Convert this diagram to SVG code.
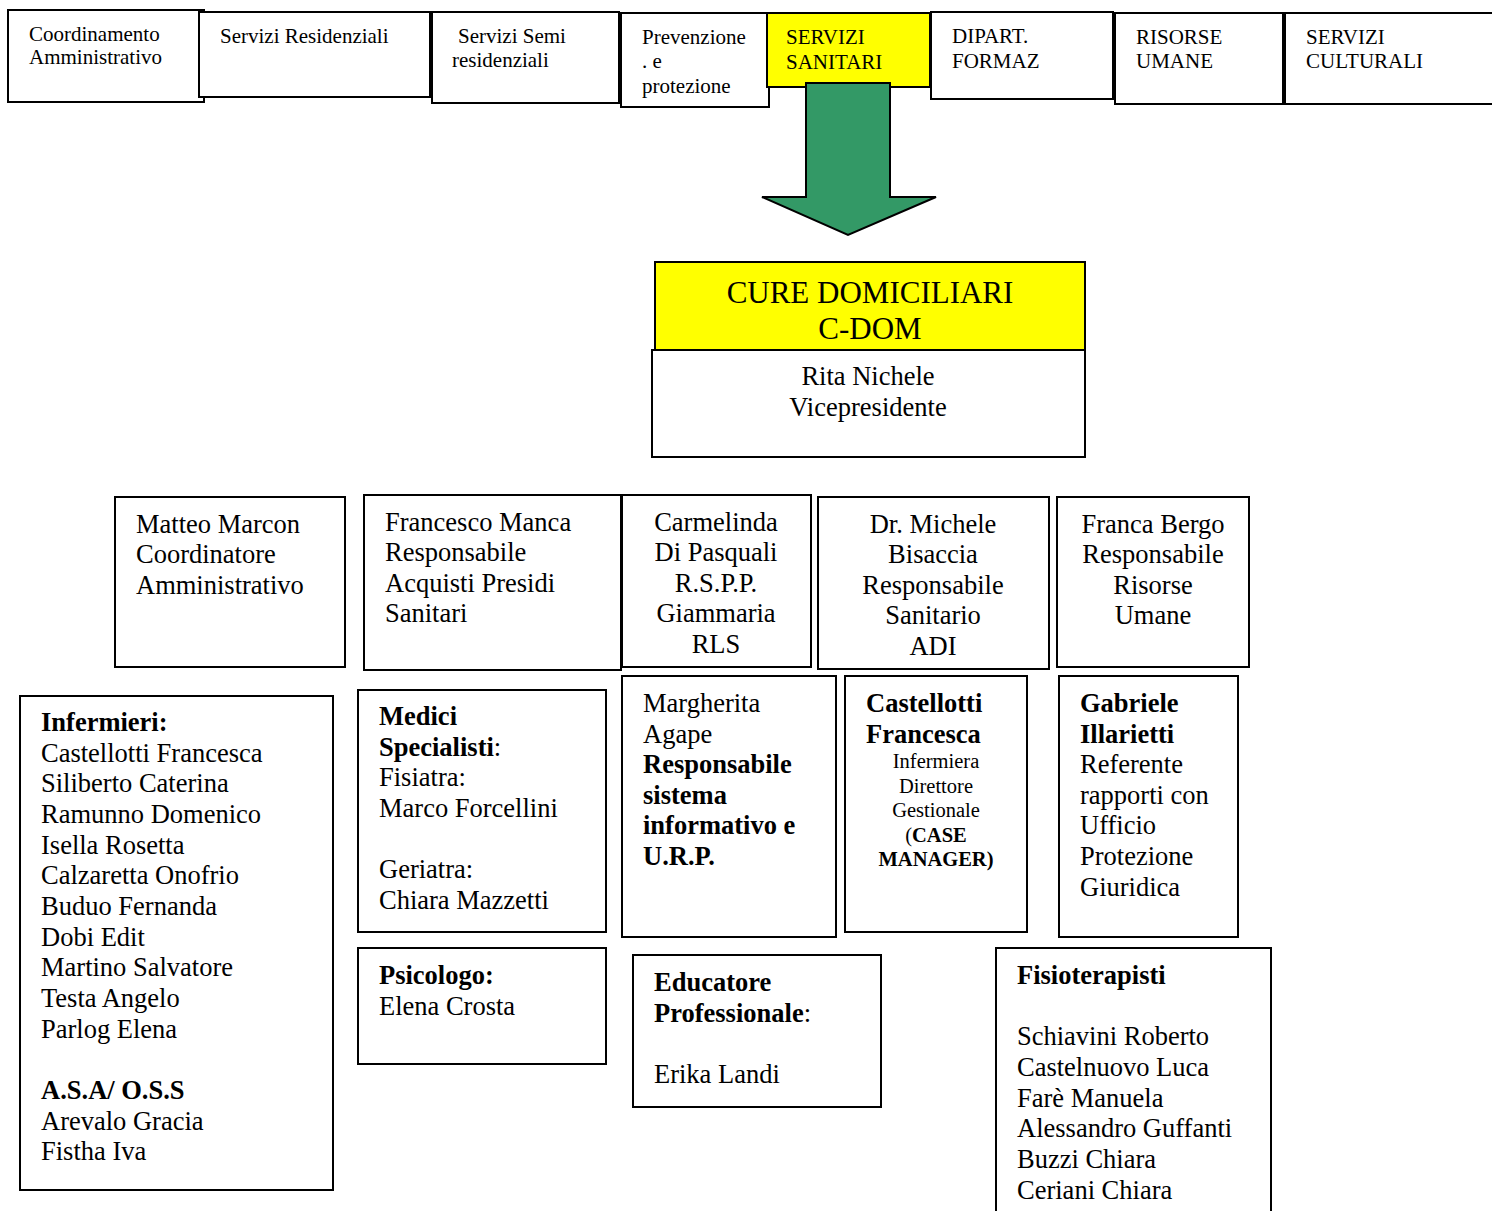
<svg xmlns="http://www.w3.org/2000/svg" width="1492" height="1211" viewBox="0 0 1492 1211">
<style>
.box{fill:#fff;stroke:#000;stroke-width:2}
.yel{fill:#ffff00;stroke:#000;stroke-width:2}
.t21{font-size:21px}
.t26{font-size:26.5px}
.t31{font-size:31px}
.s21{font-size:20.5px}
.b{font-weight:bold}
.c{text-anchor:middle}
</style>
<rect width="1492" height="1211" fill="#fff"/>
<g font-family="Liberation Serif, Times New Roman, serif" fill="#000">
<!-- top row -->
<g id="n-coord"><rect class="box" x="8" y="10" width="196" height="92"/><text class="t21" x="29" y="41">Coordinamento</text><text class="t21" x="29" y="64">Amministrativo</text></g>
<g id="n-resid"><rect class="box" x="199" y="12" width="231" height="85"/><text class="t21" x="220" y="43">Servizi Residenziali</text></g>
<g id="n-semi"><rect class="box" x="432" y="12" width="187" height="91"/><text class="t21" x="458" y="43">Servizi Semi</text><text class="t21" x="452" y="67">residenziali</text></g>
<g id="n-prev"><rect class="box" x="621" y="13" width="148" height="94"/><text class="t21" x="642" y="44">Prevenzione</text><text class="t21" x="642" y="68">. e</text><text class="t21" x="642" y="93">protezione</text></g>
<g id="n-sanit"><rect class="yel" x="767" y="13" width="163" height="74"/><text class="t21" x="786" y="44">SERVIZI</text><text class="t21" x="786" y="69">SANITARI</text></g>
<g id="n-dipart"><rect class="box" x="931" y="12" width="182" height="87"/><text class="t21" x="952" y="43">DIPART.</text><text class="t21" x="952" y="68">FORMAZ</text></g>
<g id="n-risorse"><rect class="box" x="1115" y="13" width="168" height="91"/><text class="t21" x="1136" y="44">RISORSE</text><text class="t21" x="1136" y="68">UMANE</text></g>
<g id="n-cult"><rect class="box" x="1285" y="13" width="215" height="91"/><text class="t21" x="1306" y="44">SERVIZI</text><text class="t21" x="1306" y="68">CULTURALI</text></g>
<!-- connectors -->
<g id="connectors">
<path d="M806 83 H890 V197 H936 L848 235 L762 197 H806 Z" fill="#339966" stroke="#000" stroke-width="2"/>
</g>
<!-- main -->
<g id="n-cdom"><rect class="yel" x="655" y="262" width="430" height="88"/><text class="t31 c" x="870" y="303">CURE DOMICILIARI</text><text class="t31 c" x="870" y="339">C-DOM</text></g>
<g id="n-rita"><rect class="box" x="652" y="350" width="433" height="107"/><text class="t26 c" x="868" y="385">Rita Nichele</text><text class="t26 c" x="868" y="416">Vicepresidente</text></g>
<!-- row 2 -->
<g id="n-marcon"><rect class="box" x="115" y="497" width="230" height="170"/>
<text class="t26" x="136" y="533">Matteo Marcon</text><text class="t26" x="136" y="563">Coordinatore</text><text class="t26" x="136" y="594">Amministrativo</text></g>
<g id="n-manca"><rect class="box" x="364" y="495" width="257" height="175"/>
<text class="t26" x="385" y="531">Francesco Manca</text><text class="t26" x="385" y="561">Responsabile</text><text class="t26" x="385" y="592">Acquisti Presidi</text><text class="t26" x="385" y="622">Sanitari</text></g>
<g id="n-carmelinda"><rect class="box" x="622" y="495" width="189" height="172"/>
<text class="t26 c" x="716" y="531">Carmelinda</text><text class="t26 c" x="716" y="561">Di Pasquali</text><text class="t26 c" x="716" y="592">R.S.P.P.</text><text class="t26 c" x="716" y="622">Giammaria</text><text class="t26 c" x="716" y="653">RLS</text></g>
<g id="n-bisaccia"><rect class="box" x="818" y="497" width="231" height="172"/>
<text class="t26 c" x="933" y="533">Dr. Michele</text><text class="t26 c" x="933" y="563">Bisaccia</text><text class="t26 c" x="933" y="594">Responsabile</text><text class="t26 c" x="933" y="624">Sanitario</text><text class="t26 c" x="933" y="655">ADI</text></g>
<g id="n-bergo"><rect class="box" x="1057" y="497" width="192" height="170"/>
<text class="t26 c" x="1153" y="533">Franca Bergo</text><text class="t26 c" x="1153" y="563">Responsabile</text><text class="t26 c" x="1153" y="594">Risorse</text><text class="t26 c" x="1153" y="624">Umane</text></g>
<!-- row 3 -->
<g id="n-infermieri"><rect class="box" x="20" y="696" width="313" height="494"/>
<text class="t26 b" x="41" y="731">Infermieri:</text>
<text class="t26" x="41" y="762">Castellotti Francesca</text>
<text class="t26" x="41" y="792">Siliberto Caterina</text>
<text class="t26" x="41" y="823">Ramunno Domenico</text>
<text class="t26" x="41" y="854">Isella Rosetta</text>
<text class="t26" x="41" y="884">Calzaretta Onofrio</text>
<text class="t26" x="41" y="915">Buduo Fernanda</text>
<text class="t26" x="41" y="946">Dobi Edit</text>
<text class="t26" x="41" y="976">Martino Salvatore</text>
<text class="t26" x="41" y="1007">Testa Angelo</text>
<text class="t26" x="41" y="1038">Parlog Elena</text>
<text class="t26 b" x="41" y="1099">A.S.A/ O.S.S</text>
<text class="t26" x="41" y="1130">Arevalo Gracia</text>
<text class="t26" x="41" y="1160">Fistha Iva</text></g>
<g id="n-medici"><rect class="box" x="358" y="690" width="248" height="242"/>
<text class="t26 b" x="379" y="725">Medici</text>
<text class="t26" x="379" y="756"><tspan class="b">Specialisti</tspan>:</text>
<text class="t26" x="379" y="786">Fisiatra:</text>
<text class="t26" x="379" y="817">Marco Forcellini</text>
<text class="t26" x="379" y="878">Geriatra:</text>
<text class="t26" x="379" y="909">Chiara Mazzetti</text></g>
<g id="n-agape"><rect class="box" x="622" y="676" width="214" height="261"/>
<text class="t26" x="643" y="712">Margherita</text>
<text class="t26" x="643" y="743">Agape</text>
<text class="t26 b" x="643" y="773">Responsabile</text>
<text class="t26 b" x="643" y="804">sistema</text>
<text class="t26 b" x="643" y="834">informativo e</text>
<text class="t26 b" x="643" y="865">U.R.P.</text></g>
<g id="n-castellotti"><rect class="box" x="845" y="676" width="182" height="256"/>
<text class="t26 b" x="866" y="712">Castellotti</text>
<text class="t26 b" x="866" y="743">Francesca</text>
<text class="s21 c" x="936" y="768">Infermiera</text>
<text class="s21 c" x="936" y="793">Direttore</text>
<text class="s21 c" x="936" y="817">Gestionale</text>
<text class="s21 c" x="936" y="842">(<tspan class="b">CASE</tspan></text>
<text class="s21 c b" x="936" y="866">MANAGER)</text></g>
<g id="n-illarietti"><rect class="box" x="1059" y="676" width="179" height="261"/>
<text class="t26 b" x="1080" y="712">Gabriele</text>
<text class="t26 b" x="1080" y="743">Illarietti</text>
<text class="t26" x="1080" y="773">Referente</text>
<text class="t26" x="1080" y="804">rapporti con</text>
<text class="t26" x="1080" y="834">Ufficio</text>
<text class="t26" x="1080" y="865">Protezione</text>
<text class="t26" x="1080" y="896">Giuridica</text></g>
<!-- row 4 -->
<g id="n-psicologo"><rect class="box" x="358" y="948" width="248" height="116"/>
<text class="t26 b" x="379" y="984">Psicologo:</text>
<text class="t26" x="379" y="1015">Elena Crosta</text></g>
<g id="n-educatore"><rect class="box" x="633" y="955" width="248" height="152"/>
<text class="t26 b" x="654" y="991">Educatore</text>
<text class="t26" x="654" y="1022"><tspan class="b">Professionale</tspan>:</text>
<text class="t26" x="654" y="1083">Erika Landi</text></g>
<g id="n-fisio"><path class="box" d="M996 1215 V948 H1271 V1215"/>
<text class="t26 b" x="1017" y="984">Fisioterapisti</text>
<text class="t26" x="1017" y="1045">Schiavini Roberto</text>
<text class="t26" x="1017" y="1076">Castelnuovo Luca</text>
<text class="t26" x="1017" y="1107">Farè Manuela</text>
<text class="t26" x="1017" y="1137">Alessandro Guffanti</text>
<text class="t26" x="1017" y="1168">Buzzi Chiara</text>
<text class="t26" x="1017" y="1199">Ceriani Chiara</text></g>
</g>
</svg>
